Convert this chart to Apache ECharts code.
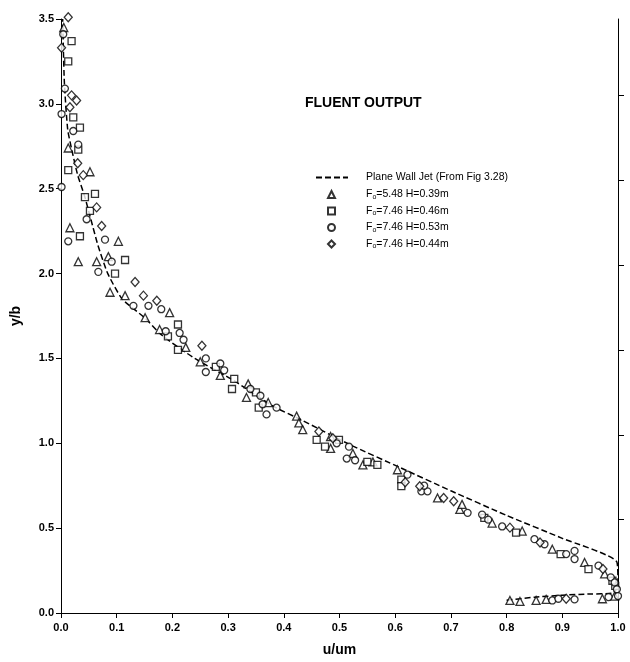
<!DOCTYPE html>
<html>
<head>
<meta charset="utf-8">
<script src="https://cdn.jsdelivr.net/npm/echarts@6/dist/echarts.min.js"></script>
<style>
  html, body { margin: 0; padding: 0; background: #fff; }
  #chart { width: 630px; height: 662px; }
</style>
</head>
<body>
<div id="chart"></div>
<script>
// x = u/um, y = y/b
var xTicks = [0.0, 0.1, 0.2, 0.3, 0.4, 0.5, 0.6, 0.7, 0.8, 0.9, 1.0];
var yTicks = [0.0, 0.5, 1.0, 1.5, 2.0, 2.5, 3.0, 3.5];
var rightTicks = [0.55, 1.05, 1.55, 2.05, 2.55, 3.05];

// plane wall jet curve (Fig 3.28)
var wallJetLine = [
  [0.80, 0.075], [0.85, 0.093], [0.90, 0.105], [0.95, 0.112], [0.99, 0.118], [1.0, 0.16],
  [0.998, 0.30], [0.90, 0.44], [0.80, 0.575], [0.70, 0.72], [0.61, 0.855], [0.52, 0.99],
  [0.43, 1.14], [0.38, 1.22], [0.31, 1.37], [0.24, 1.50], [0.18, 1.64], [0.15, 1.74],
  [0.11, 1.85], [0.084, 2.0], [0.066, 2.17], [0.052, 2.34], [0.042, 2.46], [0.03, 2.58],
  [0.02, 2.72], [0.012, 2.85], [0.006, 3.13], [0.003, 3.5]
];

// Fo=5.48 H=0.39m
var triData = [
  [0.005, 3.45], [0.013, 2.74], [0.052, 2.60], [0.016, 2.27], [0.031, 2.07], [0.064, 2.07],
  [0.103, 2.19], [0.085, 2.10], [0.088, 1.89], [0.115, 1.87], [0.151, 1.74], [0.195, 1.77],
  [0.177, 1.67], [0.224, 1.565], [0.25, 1.48], [0.286, 1.40], [0.336, 1.35], [0.333, 1.27],
  [0.372, 1.24], [0.423, 1.16], [0.427, 1.12], [0.434, 1.08], [0.484, 1.04], [0.484, 0.97],
  [0.524, 0.94], [0.542, 0.873], [0.56, 0.89], [0.604, 0.844], [0.676, 0.678], [0.716, 0.61],
  [0.72, 0.64], [0.774, 0.53], [0.828, 0.483], [0.882, 0.376], [0.94, 0.298], [0.976, 0.23],
  [0.806, 0.074], [0.824, 0.068], [0.853, 0.074], [0.871, 0.08], [0.972, 0.084], [0.994, 0.10]
];

// Fo=7.46 H=0.46m
var sqData = [
  [0.019, 3.37], [0.013, 3.25], [0.022, 2.92], [0.034, 2.86], [0.031, 2.73], [0.013, 2.61],
  [0.043, 2.45], [0.061, 2.47], [0.052, 2.37], [0.034, 2.22], [0.115, 2.08], [0.097, 2.0],
  [0.21, 1.70], [0.192, 1.63], [0.21, 1.55], [0.278, 1.45], [0.311, 1.38], [0.307, 1.32],
  [0.35, 1.30], [0.355, 1.21], [0.459, 1.02], [0.474, 0.98], [0.499, 1.02], [0.55, 0.89],
  [0.568, 0.873], [0.611, 0.786], [0.611, 0.747], [0.76, 0.56], [0.817, 0.474], [0.897, 0.347],
  [0.947, 0.259], [0.995, 0.16], [0.99, 0.19]
];

// Fo=7.46 H=0.53m
var circData = [
  [0.004, 3.41], [0.007, 3.09], [0.001, 2.94], [0.022, 2.84], [0.031, 2.76], [0.001, 2.51],
  [0.046, 2.32], [0.013, 2.19], [0.079, 2.20], [0.067, 2.01], [0.091, 2.07], [0.13, 1.81],
  [0.157, 1.81], [0.18, 1.79], [0.188, 1.66], [0.213, 1.65], [0.22, 1.61], [0.26, 1.50],
  [0.26, 1.42], [0.286, 1.47], [0.293, 1.43], [0.34, 1.32], [0.358, 1.28], [0.362, 1.23],
  [0.369, 1.17], [0.387, 1.21], [0.495, 1.0], [0.517, 0.98], [0.513, 0.91], [0.528, 0.90],
  [0.622, 0.815], [0.647, 0.717], [0.658, 0.717], [0.652, 0.75], [0.73, 0.59], [0.756, 0.58],
  [0.767, 0.55], [0.792, 0.51], [0.85, 0.435], [0.868, 0.405], [0.907, 0.347], [0.922, 0.366],
  [0.922, 0.318], [0.965, 0.279], [0.987, 0.21], [0.994, 0.18], [0.998, 0.14], [1.0, 0.10],
  [0.882, 0.074], [0.893, 0.084], [0.922, 0.08], [0.983, 0.094]
];

// Fo=7.46 H=0.44m
var diaData = [
  [0.013, 3.51], [0.001, 3.33], [0.019, 3.05], [0.016, 2.98], [0.028, 3.02], [0.03, 2.65],
  [0.04, 2.58], [0.064, 2.39], [0.073, 2.28], [0.133, 1.95], [0.148, 1.87], [0.172, 1.84],
  [0.253, 1.575], [0.463, 1.07], [0.488, 1.03], [0.618, 0.77], [0.644, 0.747], [0.687, 0.678],
  [0.705, 0.659], [0.806, 0.503], [0.86, 0.415], [0.973, 0.259], [0.907, 0.084]
];

var names = ['Plane Wall Jet (From Fig 3.28)', 'Fo=5.48 H=0.39m', 'Fo=7.46 H=0.46m', 'Fo=7.46 H=0.53m', 'Fo=7.46 H=0.44m'];

var font = 'Liberation Sans, Arial, Helvetica, sans-serif';
var hollow = { color: '#fff', borderColor: '#000', borderWidth: 1.3 };
var legendText = {
  fontFamily: font, fontSize: 10.5, color: '#000',
  rich: { sub: { fontSize: 7, padding: [5, 0, 0, 0], fontFamily: font, color: '#000' } }
};

function scatter(name, data, symbol, size) {
  return {
    name: name, type: 'scatter', data: data, symbol: symbol, symbolSize: size,
    itemStyle: hollow, clip: false, z: 3
  };
}

var chart = echarts.init(document.getElementById('chart'));
chart.setOption({
  backgroundColor: '#fff',
  animation: false,
  title: {
    text: 'FLUENT OUTPUT', left: 300, top: 91,
    textStyle: { fontFamily: font, fontWeight: 'bold', fontSize: 14, color: '#000' }
  },
  legend: [{
    orient: 'vertical', left: 315, top: 172, padding: 0,
    itemWidth: 32, itemHeight: 8,
    data: [names[0]],
    itemStyle: { opacity: 0 },
    textStyle: Object.assign({ padding: [0, 0, 0, 13] }, legendText)
  }, {
    orient: 'vertical', left: 327, top: 189, padding: 0,
    itemWidth: 7, itemHeight: 7, itemGap: 5,
    data: names.slice(1),
    formatter: function (n) { return n.replace(/^Fo/, 'F{sub|o}'); },
    textStyle: Object.assign({ padding: [0, 0, 0, 26] }, legendText)
  }],
  grid: { left: 61, right: 12, top: 19, bottom: 45 },
  xAxis: {
    type: 'value', min: 0, max: 1.0, interval: 0.1,
    name: 'u/um', nameLocation: 'middle', nameGap: 30,
    nameTextStyle: { fontFamily: font, fontWeight: 'bold', fontSize: 14, color: '#000' },
    axisLine: { lineStyle: { color: '#000', width: 1 } },
    axisTick: { length: 5, lineStyle: { color: '#000' } },
    axisLabel: {
      fontFamily: font, fontWeight: 'bold', fontSize: 11, color: '#000', margin: 9,
      formatter: function (v) { return xTicks.indexOf(+v.toFixed(1)) >= 0 ? v.toFixed(1) : ''; }
    },
    splitLine: { show: false }
  },
  yAxis: [{
    type: 'value', min: 0, max: 3.5, interval: 0.5,
    name: 'y/b', nameLocation: 'middle', nameGap: 38, nameRotate: 90,
    nameTextStyle: { fontFamily: font, fontWeight: 'bold', fontSize: 14, color: '#000' },
    axisLine: { show: true, lineStyle: { color: '#000', width: 1 } },
    axisTick: { show: true, length: 5, lineStyle: { color: '#000' } },
    axisLabel: {
      fontFamily: font, fontWeight: 'bold', fontSize: 11, color: '#000', margin: 7,
      formatter: function (v) { return yTicks.indexOf(+v.toFixed(1)) >= 0 ? v.toFixed(1) : ''; }
    },
    splitLine: { show: false }
  }, {
    type: 'value', min: 0, max: 3.5, position: 'right',
    axisLine: { show: true, lineStyle: { color: '#000', width: 1 } },
    axisTick: { show: true, length: 6, customValues: rightTicks, lineStyle: { color: '#000' } },
    axisLabel: { show: false },
    splitLine: { show: false }
  }],
  series: [
    {
      name: names[0], type: 'line', data: wallJetLine, symbol: 'none', smooth: 0.2,
      lineStyle: { color: '#000', width: 1.5, type: [6, 3] }, itemStyle: { color: '#000' }, z: 2
    },
    scatter(names[1], triData, 'triangle', 8),
    scatter(names[2], sqData, 'rect', 7),
    scatter(names[3], circData, 'circle', 7),
    scatter(names[4], diaData, 'diamond', [8, 9])
  ]
});
</script>
</body>
</html>
